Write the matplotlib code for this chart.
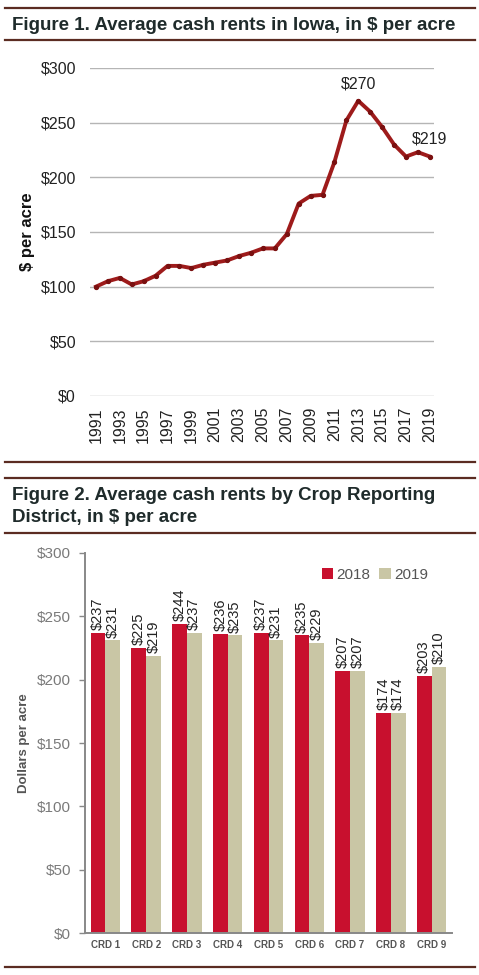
import matplotlib.pyplot as plt
from matplotlib.lines import Line2D

# Figure 1 data: Iowa average cash rent, $ per acre
years = list(range(1991, 2020))
rents = [100, 105, 108, 102, 105, 110, 119, 119, 117, 120, 122, 124, 128, 131,
         135, 135, 148, 176, 183, 184, 214, 252, 270, 260, 246, 230, 219, 223, 219]
year_ticks = list(range(1991, 2020, 2))
callouts = {2013: "$270", 2019: "$219"}

# Figure 2 data: by Crop Reporting District
districts = ["CRD 1", "CRD 2", "CRD 3", "CRD 4", "CRD 5", "CRD 6", "CRD 7", "CRD 8", "CRD 9"]
rent_2018 = [237, 225, 244, 236, 237, 235, 207, 174, 203]
rent_2019 = [231, 219, 237, 235, 231, 229, 207, 174, 210]
dollar_ticks = [0, 50, 100, 150, 200, 250, 300]

W, H = 479, 975
TITLE_COLOR = "#1f2b2b"
RULE_COLOR = "#5b2c22"
RED = "#c8102e"
KHAKI = "#c9c6a5"

plt.rcParams["font.family"] = ["Liberation Sans", "DejaVu Sans"]

fig = plt.figure(figsize=(W / 100, H / 100), dpi=100)


def px_axes(left, top, right, bottom):
    return fig.add_axes([left / W, 1 - bottom / H, (right - left) / W, (bottom - top) / H])


def rule(y, x0=5, x1=475):
    fig.add_artist(Line2D([x0 / W, x1 / W], [1 - y / H, 1 - y / H],
                          color=RULE_COLOR, lw=1.6, transform=fig.transFigure))


def title(x, y, s):
    fig.text(x / W, 1 - y / H, s, fontsize=13.5, fontweight="bold", color=TITLE_COLOR,
             ha="left", va="center", family=["Liberation Sans Narrow", "Liberation Sans"])


# rules and titles
for y in (8, 40, 462, 478, 533, 967):
    rule(y)
title(12, 25, "Figure 1. Average cash rents in Iowa, in $ per acre")
title(12, 495, "Figure 2. Average cash rents by Crop Reporting")
title(12, 518, "District, in $ per acre")

# ---- Figure 1: line chart
ax1 = px_axes(90, 68, 434, 396)
ax1.plot(years, rents, color="#9e1b1b", lw=2.8, marker="o", ms=2.8,
         mfc="#7a1010", mec="#7a1010", zorder=3)
ax1.set_xlim(1990.5, 2019.35)
ax1.set_ylim(0, 300)
ax1.set_yticks(dollar_ticks)
ax1.set_yticklabels([f"${v}" for v in dollar_ticks])
ax1.set_xticks(year_ticks)
ax1.set_xticklabels([str(y) for y in year_ticks], rotation=90)
ax1.tick_params(axis="y", length=0, pad=10, labelsize=11.5, labelcolor="#222222")
ax1.tick_params(axis="x", length=0, pad=8, labelsize=11.5, labelcolor="#222222")
ax1.grid(axis="y", color="#b5b5b5", lw=1)
ax1.set_axisbelow(True)
for sp in ax1.spines.values():
    sp.set_visible(False)
ax1.set_ylabel("$ per acre", fontsize=12, fontweight="bold", color="#111111")
ax1.yaxis.set_label_coords(-0.16, 0.5)
for yr, text in callouts.items():
    ax1.annotate(text, (yr, rents[years.index(yr)]), xytext=(0, 7),
                 textcoords="offset points", ha="center", va="bottom",
                 fontsize=11.5, color="#222222")

# ---- Figure 2: grouped bars
ax2 = px_axes(85, 553, 452, 933)
xs = list(range(len(districts)))
w = 0.36
b18 = ax2.bar([x - w / 2 for x in xs], rent_2018, w, color=RED, label="2018")
b19 = ax2.bar([x + w / 2 for x in xs], rent_2019, w, color=KHAKI, label="2019")
for bars in (b18, b19):
    for rect in bars:
        v = rect.get_height()
        ax2.annotate(f"${v:.0f}", (rect.get_x() + rect.get_width() / 2, v),
                     xytext=(0, 2), textcoords="offset points", ha="center", va="bottom",
                     rotation=90, fontsize=10.5, color="#222222",
                     family=["Liberation Sans Narrow", "Liberation Sans"])
ax2.set_xlim(-0.5, 8.5)
ax2.set_ylim(0, 300)
ax2.set_yticks(dollar_ticks)
ax2.set_yticklabels([f"${v}" for v in dollar_ticks])
ax2.set_xticks(xs)
ax2.set_xticklabels(districts, fontweight="bold")
ax2.tick_params(axis="y", length=4, width=1, color="#888888", pad=6,
                labelsize=11, labelcolor="#7a7a7a")
ax2.tick_params(axis="x", length=0, pad=5, labelsize=7, labelcolor="#555555")
for side in ("top", "right"):
    ax2.spines[side].set_visible(False)
for side in ("left", "bottom"):
    ax2.spines[side].set_color("#888888")
    ax2.spines[side].set_linewidth(1.4)
ax2.set_ylabel("Dollars per acre", fontsize=9.5, fontweight="bold", color="#555555")
ax2.yaxis.set_label_coords(-0.15, 0.5)
ax2.legend(loc="center right", bbox_to_anchor=(0.955, 0.942), ncol=2, frameon=False,
           handlelength=0.75, handleheight=0.75, handletextpad=0.2, columnspacing=0.6,
           borderpad=0, fontsize=11, labelcolor="#555555")

fig.savefig("out.png", dpi=100)
